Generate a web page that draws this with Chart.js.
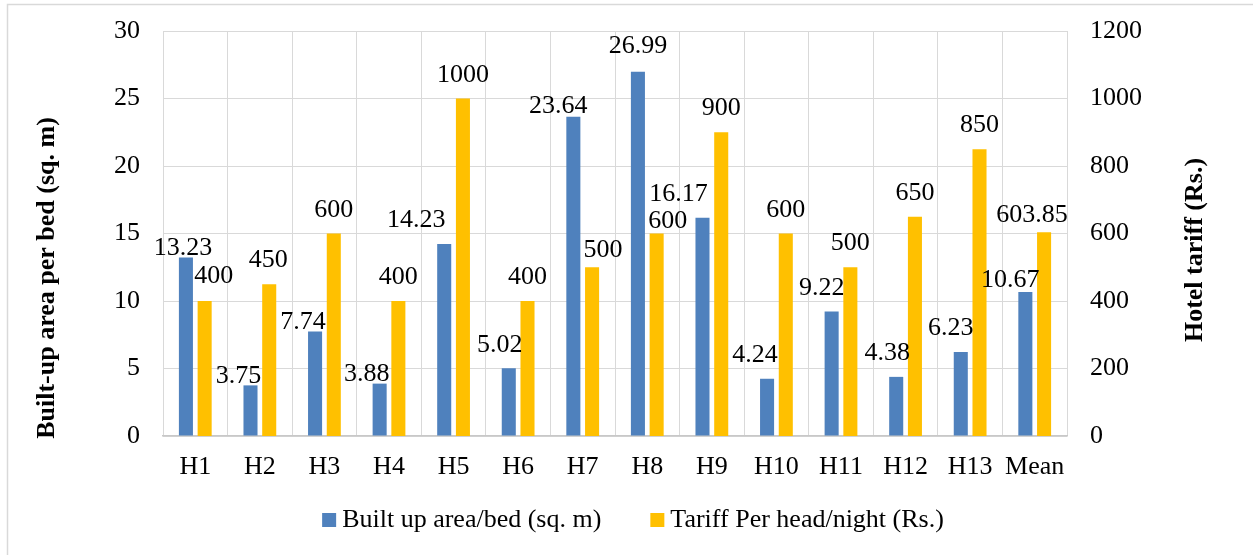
<!DOCTYPE html>
<html>
<head>
<meta charset="utf-8">
<script src="https://cdn.jsdelivr.net/npm/chart.js@4"></script>
<style>
  body { margin: 0; background: #fff; }
  #wrap { width: 1253px; height: 555px; position: relative; }
</style>
</head>
<body>
<div id="wrap"><canvas id="chart"></canvas></div>
<script>
const categories = ["H1", "H2", "H3", "H4", "H5", "H6", "H7", "H8", "H9", "H10", "H11", "H12", "H13", "Mean"];
const builtUpArea = [13.23, 3.75, 7.74, 3.88, 14.23, 5.02, 23.64, 26.99, 16.17, 4.24, 9.22, 4.38, 6.23, 10.67];
const tariff = [400, 450, 600, 400, 1000, 400, 500, 600, 900, 600, 500, 650, 850, 603.85];
const areaTicks = [0, 5, 10, 15, 20, 25, 30];
const tariffTicks = [0, 200, 400, 600, 800, 1000, 1200];

const seriesNames = ["Built up area/bed (sq. m)", "Tariff Per head/night (Rs.)"];
const leftTitle = "Built-up area per bed (sq. m)";
const rightTitle = "Hotel tariff (Rs.)";

const BLUE = "#4f81bd";
const GOLD = "#ffc000";
const GRID = "#d9d9d9";
const FONT = "'Liberation Serif', 'Times New Roman', serif";
const SIZE = 26;

// little shifts for the value labels, [dx, dy] per bar
const labelShift = [
  [[-3, 15], [-12, 15], [-12, 14], [-13, 14], [-28, 0], [-9, 1], [-15, 13], [0, -2], [-24, 0], [-12, 0], [-10, 0], [-9, 0], [-10, 0], [-15, 12]],
  [[9, -1], [-1, 0], [0, 0], [0, 0], [0, 0], [0, 0], [11, 7], [11, 11], [0, 0], [0, 0], [0, 0], [0, 0], [0, 0], [-12, 7]]
];

const extras = {
  id: "extras",
  beforeDraw(chart) {
    const ctx = chart.ctx;
    ctx.save();
    ctx.fillStyle = "#fff";
    ctx.fillRect(0, 0, chart.width, chart.height);
    ctx.strokeStyle = GRID;
    ctx.lineWidth = 1.5;
    ctx.strokeRect(7.5, 4.5, chart.width + 20, chart.height + 20);
    ctx.restore();
  },
  afterDatasetsDraw(chart) {
    const ctx = chart.ctx;
    ctx.save();
    ctx.font = SIZE + "px " + FONT;
    ctx.fillStyle = "#000";
    ctx.textAlign = "center";
    ctx.textBaseline = "alphabetic";
    chart.data.datasets.forEach((ds, i) => {
      chart.getDatasetMeta(i).data.forEach((bar, j) => {
        const [dx, dy] = labelShift[i][j];
        ctx.fillText(String(ds.data[j]), bar.x + dx, bar.y - 17 + dy);
      });
    });
    ctx.restore();
  },
  afterDraw(chart) {
    const ctx = chart.ctx;
    ctx.save();
    ctx.fillStyle = "#000";

    // axis titles
    ctx.font = "bold " + SIZE + "px " + FONT;
    ctx.textAlign = "center";
    ctx.textBaseline = "middle";
    [[leftTitle, 47, 278], [rightTitle, 1195, 250]].forEach(([t, x, y]) => {
      ctx.save();
      ctx.translate(x, y);
      ctx.rotate(-Math.PI / 2);
      ctx.fillText(t, 0, 0);
      ctx.restore();
    });

    // legend
    ctx.font = SIZE + "px " + FONT;
    ctx.textAlign = "left";
    const box = 14, gap = 6, between = 49;
    const widths = seriesNames.map(n => ctx.measureText(n).width);
    const total = widths.reduce((a, w) => a + box + gap + w, 0) + between;
    let x = 633 - total / 2;
    const y = 520;
    chart.data.datasets.forEach((ds, i) => {
      ctx.fillStyle = ds.backgroundColor;
      ctx.fillRect(x, y - box / 2, box, box);
      ctx.fillStyle = "#000";
      ctx.fillText(seriesNames[i], x + box + gap, y);
      x += box + gap + widths[i] + between;
    });
    ctx.restore();
  }
};

const noPad = s => { s.paddingTop = 0; s.paddingBottom = 0; };

new Chart(document.getElementById("chart"), {
  type: "bar",
  data: {
    labels: categories,
    datasets: [
      { label: seriesNames[0], data: builtUpArea, backgroundColor: BLUE, yAxisID: "y" },
      { label: seriesNames[1], data: tariff, backgroundColor: GOLD, yAxisID: "y1" }
    ]
  },
  options: {
    responsive: true,
    maintainAspectRatio: false,
    animation: false,
    categoryPercentage: 0.58,
    barPercentage: 0.75,
    layout: { padding: { top: 31, left: 0, right: 0, bottom: 0 } },
    plugins: {
      legend: { display: false },
      tooltip: { enabled: false }
    },
    scales: {
      x: {
        grid: { color: GRID, drawTicks: false, offset: true },
        border: { color: "#c8c8c8", width: 1.5 },
        ticks: {
          color: "#000", padding: 16, autoSkip: false, maxRotation: 0, minRotation: 0,
          font: { family: FONT, size: SIZE }
        },
        afterFit: s => { s.height = 119; s.paddingLeft = 0; s.paddingRight = 0; }
      },
      y: {
        position: "left",
        min: areaTicks[0],
        max: areaTicks[areaTicks.length - 1],
        ticks: { stepSize: areaTicks[1] - areaTicks[0], color: "#000", padding: 23, font: { family: FONT, size: SIZE } },
        grid: { color: GRID, drawTicks: false },
        border: { display: false },
        afterFit: s => { s.width = 163; noPad(s); }
      },
      y1: {
        position: "right",
        min: tariffTicks[0],
        max: tariffTicks[tariffTicks.length - 1],
        ticks: {
          stepSize: tariffTicks[1] - tariffTicks[0],
          color: "#000",
          padding: 23,
          font: { family: FONT, size: SIZE },
          callback: v => String(v)
        },
        grid: { display: false, drawTicks: false },
        border: { display: false },
        afterFit: s => { s.width = 186; noPad(s); }
      }
    }
  },
  plugins: [extras]
});
</script>
</body>
</html>
